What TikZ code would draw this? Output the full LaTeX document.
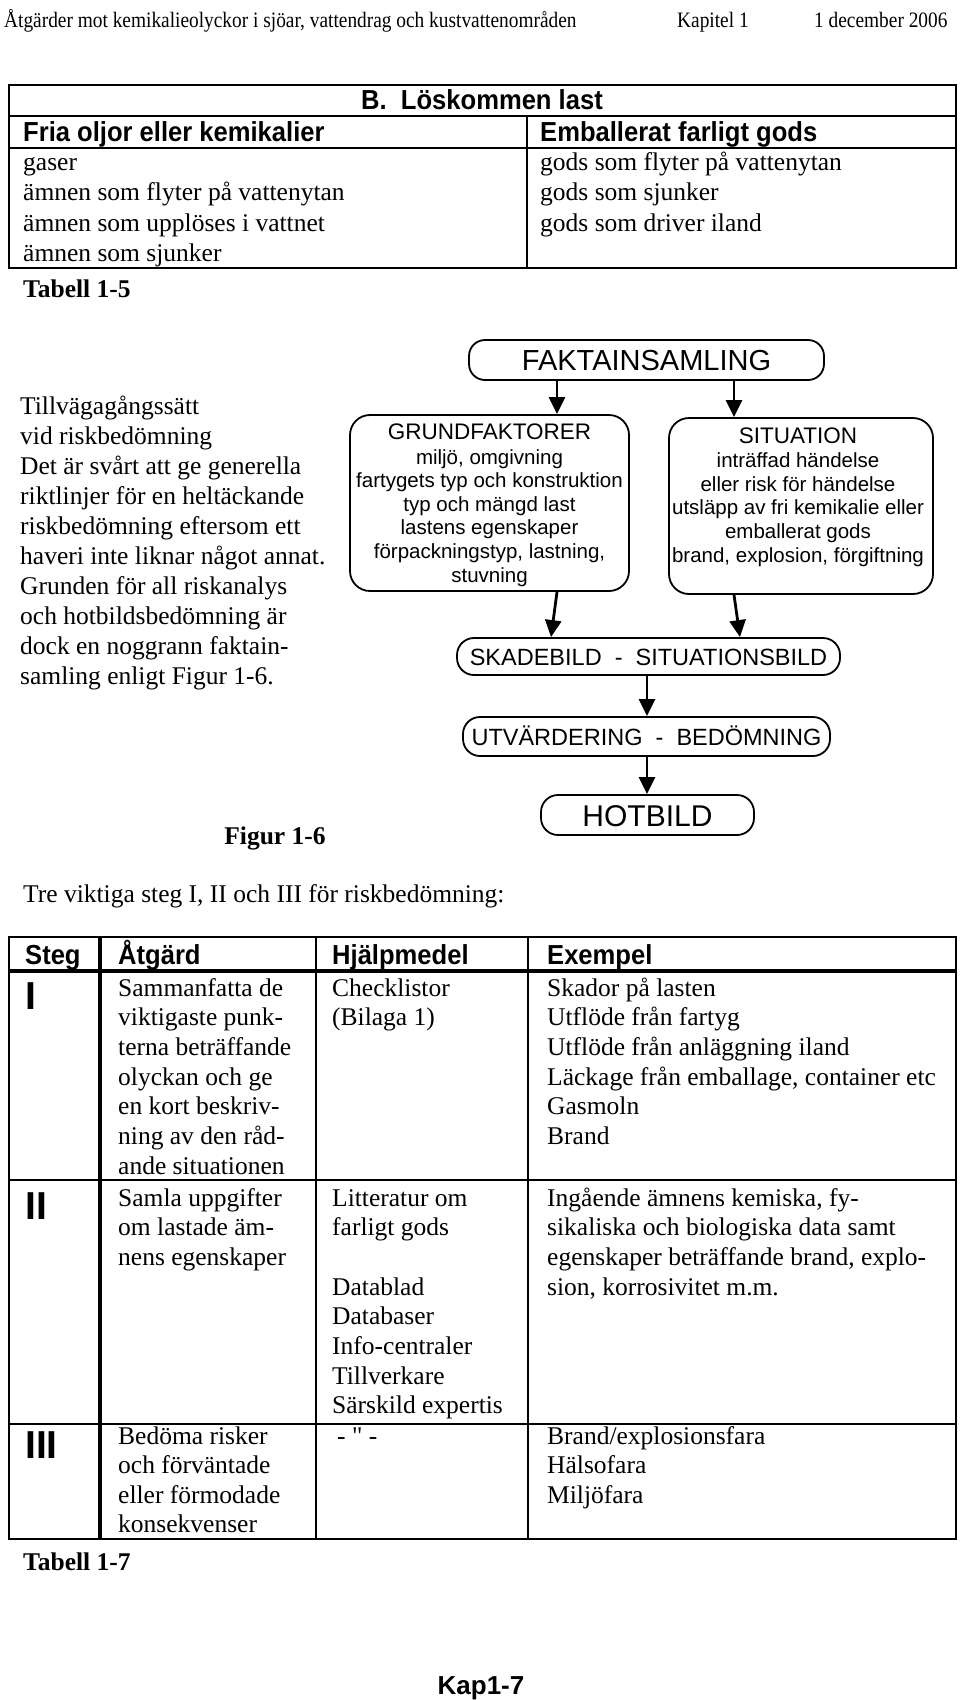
\documentclass[tikz,border=0pt]{standalone}
\usepackage{fontspec}
\setmainfont{Liberation Serif}
\newfontfamily\arialf{Liberation Sans}
\newfontfamily\arialn{Liberation Sans}[FakeStretch=0.93]
\newfontfamily\rawserif{Liberation Serif}
\newfontfamily\hdrf{Liberation Serif}[FakeStretch=0.88]
\usetikzlibrary{arrows.meta,calc}
\newcommand{\fs}[2]{\fontsize{#1}{#2}\selectfont}
\begin{document}
\begin{tikzpicture}[x=1pt,y=-1pt,
  tl/.style={line width=1.5pt},
  tlt/.style={line width=3.5pt},
  tms/.style={font=\fs{25.5}{30}, inner sep=0pt, anchor=base west},
  tmsb/.style={font=\bfseries\fs{25.5}{30}, inner sep=0pt, anchor=base west},
  ahd/.style={font=\arialn\bfseries\fs{27.5}{30}, inner sep=0pt, anchor=base west},
  hdr/.style={font=\hdrf\fs{22}{26}, inner sep=0pt, anchor=base west},
  fbox/.style={draw, line width=1.8pt, inner sep=0pt},
  fhead/.style={font=\arialf\fs{22.5}{26}, inner sep=0pt, anchor=base},
  ftxt/.style={font=\arialf\fs{20.5}{24}, inner sep=0pt, anchor=base},
  farrow/.style={line width=2.8pt, -{Triangle[length=17pt,width=16pt]}},
  roman/.style={font=\arialf\bfseries\fs{39}{40}, inner sep=0pt, anchor=base west}
]
\useasboundingbox (0,0) rectangle (960,1700);

% ---------- page header ----------
\node[hdr] (h1) at (4,27) {Åtgärder mot kemikalieolyckor i sjöar, vattendrag och kustvattenområden};
\node[hdr] (h2) at (677,27) {Kapitel 1};
\node[hdr] (h3) at (814,27) {1 december 2006};

% ---------- Tabell 1-5 ----------
\draw[tl] (9,85) rectangle (956,268);
\draw[tl] (9,116) -- (956,116);
\draw[tl] (9,148) -- (956,148);
\draw[tl] (527,116) -- (527,268);
\node[ahd, anchor=base] (t5title) at (482,109) {B.\ \ Löskommen last};
\node[ahd] (t5h1) at (23,141) {Fria oljor eller kemikalier};
\node[ahd] (t5h2) at (540,141) {Emballerat farligt gods};
\foreach \t [count=\i from 0] in {gaser, ämnen som flyter på vattenytan, ämnen som upplöses i vattnet, ämnen som sjunker}
  \node[tms] (t5l\i) at (23,170+30.5*\i) {\t};
\foreach \t [count=\i from 0] in {gods som flyter på vattenytan, gods som sjunker, gods som driver iland}
  \node[tms] (t5r\i) at (540,170+30.5*\i) {\t};
\node[tmsb] (tab5) at (23,297) {Tabell 1-5};

% ---------- left paragraph ----------
\foreach \t [count=\i from 0] in {Tillvägagångssätt, vid riskbedömning, Det är svårt att ge generella, riktlinjer för en heltäckande, riskbedömning eftersom ett, haveri inte liknar något annat., Grunden för all riskanalys, och hotbildsbedömning är, dock en noggrann faktain-, samling enligt Figur 1-6.}
  \node[tms] (para\i) at (20,414+30*\i) {\t};

% ---------- flowchart ----------
\node[fbox, rounded corners=16pt, minimum width=355pt, minimum height=40pt] (fakta) at (646.5,360) {};
\node[font=\arialf\fs{29}{32}, inner sep=0pt, anchor=base] (faktat) at (646.5,370.5) {FAKTAINSAMLING};

\node[fbox, rounded corners=20pt, minimum width=279pt, minimum height=176pt] (grund) at (489.5,503) {};
\node[fhead] (grundh) at (489.5,439) {GRUNDFAKTORER};
\foreach \t [count=\i from 0] in {{miljö, omgivning}, fartygets typ och konstruktion, typ och mängd last, lastens egenskaper, {förpackningstyp, lastning,}, stuvning}
  \node[ftxt] (grundt\i) at (489.5,464+23.6*\i) {\t};

\node[fbox, rounded corners=20pt, minimum width=264pt, minimum height=176pt] (sit) at (801,506) {};
\node[fhead] (sith) at (798,443) {SITUATION};
\foreach \t [count=\i from 0] in {inträffad händelse, eller risk för händelse, utsläpp av fri kemikalie eller, emballerat gods, {brand, explosion, förgiftning}}
  \node[ftxt] (sitt\i) at (798,467.5+23.7*\i) {\t};

\node[fbox, rounded corners=17pt, minimum width=383pt, minimum height=37pt] (skade) at (648.5,656.5) {};
\node[font=\arialf\fs{23.5}{26}, inner sep=0pt, anchor=base] (skadet) at (648.5,665) {SKADEBILD\ \ -\ \ SITUATIONSBILD};
\node[fbox, rounded corners=17pt, minimum width=367pt, minimum height=39pt] (utv) at (646.5,736.5) {};
\node[font=\arialf\fs{23.5}{26}, inner sep=0pt, anchor=base] (utvt) at (646.5,745) {UTVÄRDERING\ \ -\ \ BEDÖMNING};
\node[fbox, rounded corners=17pt, minimum width=213pt, minimum height=40pt] (hot) at (647.5,815) {};
\node[font=\arialf\fs{30}{32}, inner sep=0pt, anchor=base] (hott) at (647.5,826) {HOTBILD};

\draw[farrow] (fakta.south -| 557,0) -- (grund.north -| 557,0);
\draw[farrow] (fakta.south -| 734,0) -- (sit.north -| 734,0);
\draw[farrow] (grund.south -| 557,0) -- (skade.north -| 551,0);
\draw[farrow] (sit.south -| 734,0) -- (skade.north -| 740,0);
\draw[farrow] (skade.south -| 647,0) -- (utv.north -| 647,0);
\draw[farrow] (utv.south -| 647,0) -- (hot.north -| 647,0);

\node[tmsb, anchor=base] (fig) at (275,844) {Figur 1-6};
\node[tms] (intro) at (23,902) {Tre viktiga steg I, II och III för riskbedömning:};

% ---------- Tabell 1-7 ----------
\draw[tl] (9,937) rectangle (956,1539);
\draw[tlt] (9,971) -- (956,971);
\draw[tlt] (100,937) -- (100,1539);
\draw[tl] (316,937) -- (316,1539);
\draw[tl] (528,937) -- (528,1539);
\draw[tl] (9,1180) -- (956,1180);
\draw[tl] (9,1424) -- (956,1424);

\node[ahd] (c1) at (25,964) {Steg};
\node[ahd] (c2) at (118,964) {Åtgärd};
\node[ahd] (c3) at (332,964) {Hjälpmedel};
\node[ahd] (c4) at (547,964) {Exempel};

% row I
\node[roman] (rI) at (25,1009) {I};
\foreach \t [count=\i from 0] in {Sammanfatta de, viktigaste punk-, terna beträffande, olyckan och ge, en kort beskriv-, ning av den råd-, ande situationen}
  \node[tms] (r1a\i) at (118,996+29.7*\i) {\t};
\foreach \t [count=\i from 0] in {Checklistor, {(Bilaga 1)}}
  \node[tms] (r1h\i) at (332,996+29.7*\i) {\t};
\foreach \t [count=\i from 0] in {Skador på lasten, Utflöde från fartyg, Utflöde från anläggning iland, {Läckage från emballage, container etc}, Gasmoln, Brand}
  \node[tms] (r1e\i) at (547,996+29.7*\i) {\t};

% row II
\node[roman] (rII) at (25,1219) {II};
\foreach \t [count=\i from 0] in {Samla uppgifter, om lastade äm-, nens egenskaper}
  \node[tms] (r2a\i) at (118,1206+29.7*\i) {\t};
\foreach \t/\k in {Litteratur om/0, farligt gods/1, Datablad/3, Databaser/4, Info-centraler/5, Tillverkare/6, Särskild expertis/7}
  \node[tms] (r2h\k) at (332,1206+29.7*\k) {\t};
\foreach \t [count=\i from 0] in {{Ingående ämnens kemiska, fy-}, sikaliska och biologiska data samt, {egenskaper beträffande brand, explo-}, {sion, korrosivitet m.m.}}
  \node[tms] (r2e\i) at (547,1206+29.7*\i) {\t};

% row III
\node[roman] (rIII) at (25,1458) {III};
\foreach \t [count=\i from 0] in {Bedöma risker, och förväntade, eller förmodade, konsekvenser}
  \node[tms] (r3a\i) at (118,1444+29.5*\i) {\t};
\node[tms] (r3h) at (337,1444) {- {\rawserif "} -};
\foreach \t [count=\i from 0] in {Brand/explosionsfara, Hälsofara, Miljöfara}
  \node[tms] (r3e\i) at (547,1444+29.5*\i) {\t};

\node[tmsb] (tab7) at (23,1570) {Tabell 1-7};
\node[font=\arialf\bfseries\fs{26}{28}, inner sep=0pt, anchor=base] (kap) at (481,1694) {Kap1-7};
\end{tikzpicture}
\end{document}
